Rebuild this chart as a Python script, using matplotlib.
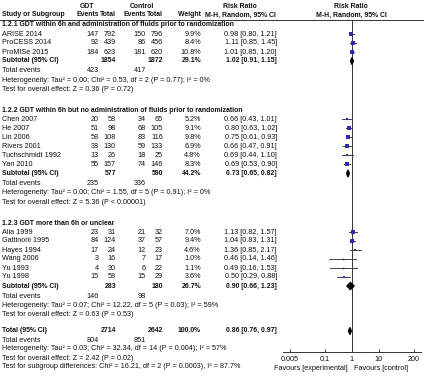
import matplotlib.pyplot as plt
from matplotlib.patches import Polygon
import numpy as np

W, H = 424, 380

# ---- data ----
group_titles = [
    "1.2.1 GDT within 6h and administration of fluids prior to randomization",
    "1.2.2 GDT within 6h but no administration of fluids prior to randomization",
    "1.2.3 GDT more than 6h or unclear",
]

studies_1 = ["ARISE 2014", "ProCESS 2014", "ProMISe 2015"]
gdt_events_1 = [147, 92, 184]
gdt_total_1 = [792, 439, 623]
ctl_events_1 = [150, 86, 181]
ctl_total_1 = [796, 456, 620]
weight_1 = [9.9, 8.4, 10.8]
rr_1 = [0.98, 1.11, 1.01]
lo_1 = [0.80, 0.85, 0.85]
hi_1 = [1.21, 1.45, 1.20]

studies_2 = ["Chen 2007", "He 2007", "Lin 2006", "Rivers 2001", "Tuchschmidt 1992", "Yan 2010"]
gdt_events_2 = [20, 51, 58, 38, 13, 55]
gdt_total_2 = [58, 98, 108, 130, 26, 157]
ctl_events_2 = [34, 68, 83, 59, 18, 74]
ctl_total_2 = [65, 105, 116, 133, 25, 146]
weight_2 = [5.2, 9.1, 9.8, 6.9, 4.8, 8.3]
rr_2 = [0.66, 0.80, 0.75, 0.66, 0.69, 0.69]
lo_2 = [0.43, 0.63, 0.61, 0.47, 0.44, 0.53]
hi_2 = [1.01, 1.02, 0.93, 0.91, 1.10, 0.90]

studies_3 = ["Alia 1999", "Gattinoni 1995", "Hayes 1994", "Wang 2006", "Yu 1993", "Yu 1998"]
gdt_events_3 = [23, 84, 17, 3, 4, 15]
gdt_total_3 = [31, 124, 24, 16, 30, 58]
ctl_events_3 = [21, 37, 12, 7, 6, 15]
ctl_total_3 = [32, 57, 23, 17, 22, 29]
weight_3 = [7.0, 9.4, 4.6, 1.0, 1.1, 3.6]
rr_3 = [1.13, 1.04, 1.36, 0.46, 0.49, 0.50]
lo_3 = [0.82, 0.83, 0.85, 0.14, 0.16, 0.29]
hi_3 = [1.57, 1.31, 2.17, 1.46, 1.53, 0.88]

sub_gdt_total = [1854, 577, 283]
sub_ctl_total = [1872, 590, 180]
sub_weight = [29.1, 44.2, 26.7]
sub_rr = [1.02, 0.73, 0.90]
sub_lo = [0.91, 0.65, 0.66]
sub_hi = [1.15, 0.82, 1.23]
sub_gdt_events = [423, 235, 146]
sub_ctl_events = [417, 336, 98]
sub_het = [
    "Heterogeneity: Tau\u00b2 = 0.00; Chi\u00b2 = 0.53, df = 2 (P = 0.77); I\u00b2 = 0%",
    "Heterogeneity: Tau\u00b2 = 0.00; Chi\u00b2 = 1.55, df = 5 (P = 0.91); I\u00b2 = 0%",
    "Heterogeneity: Tau\u00b2 = 0.07; Chi\u00b2 = 12.22, df = 5 (P = 0.03); I\u00b2 = 59%",
]
sub_test = [
    "Test for overall effect: Z = 0.36 (P = 0.72)",
    "Test for overall effect: Z = 5.36 (P < 0.00001)",
    "Test for overall effect: Z = 0.63 (P = 0.53)",
]

total_gdt, total_ctl = 2714, 2642
total_rr, total_lo, total_hi = 0.86, 0.76, 0.97
total_gdt_events, total_ctl_events = 804, 851
total_het = "Heterogeneity: Tau\u00b2 = 0.03; Chi\u00b2 = 32.34, df = 14 (P = 0.004); I\u00b2 = 57%"
total_test = "Test for overall effect: Z = 2.42 (P = 0.02)"
subgroup_test = "Test for subgroup differences: Chi\u00b2 = 16.21, df = 2 (P = 0.0003), I\u00b2 = 87.7%"

xticks = [0.005, 0.1, 1, 10, 200]
xtick_labels = ["0.005", "0.1", "1", "10", "200"]

groups = [
    (studies_1, gdt_events_1, gdt_total_1, ctl_events_1, ctl_total_1, weight_1, rr_1, lo_1, hi_1),
    (studies_2, gdt_events_2, gdt_total_2, ctl_events_2, ctl_total_2, weight_2, rr_2, lo_2, hi_2),
    (studies_3, gdt_events_3, gdt_total_3, ctl_events_3, ctl_total_3, weight_3, rr_3, lo_3, hi_3),
]

# ---- style ----
plt.rcParams['font.family'] = ['Liberation Sans', 'DejaVu Sans']
FS = 5.2      # regular text
FSB = 4.95    # bold text
TXT = '#111111'
BLUE = '#2c2cb0'

# column right edges (px)
X_NAME = 2
X_GE, X_GT, X_CE, X_CT, X_W, X_CI = 99, 116, 146, 163, 201, 277

fig = plt.figure(figsize=(W / 100, H / 100), dpi=100)


def t(x, y, s, ha='left', bold=False):
    fig.text(x / W, 1 - y / H, s, ha=ha, va='center',
             fontsize=FSB if bold else FS, color=TXT,
             fontweight='bold' if bold else 'normal')


# forest axes: data y == pixel y
ax_l, ax_r, ax_top, ax_bot = 282.7, 420.7, 19.5, 352
ax = fig.add_axes([ax_l / W, 1 - ax_bot / H, (ax_r - ax_l) / W, (ax_bot - ax_top) / H])
ax.set_xscale('log')
ax.set_xlim(10 ** -2.556, 10 ** 2.556)
ax.set_ylim(ax_bot, ax_top)
for s in ['left', 'right', 'top']:
    ax.spines[s].set_visible(False)
ax.spines['bottom'].set_color('#333333')
ax.spines['bottom'].set_linewidth(0.7)
ax.set_yticks([])
ax.set_xticks(xticks)
ax.set_xticklabels(xtick_labels)
ax.minorticks_off()
ax.tick_params(axis='x', direction='in', length=2.5, width=0.7, color='#333333',
               labelsize=FS, labelcolor=TXT, pad=3)
ax.axvline(1, color='#333333', lw=0.7, zorder=1)
ax.patch.set_alpha(0)

# header
t(87, 6, "GDT", ha='center', bold=True)
t(142, 6, "Control", ha='center', bold=True)
t(240, 6, "Risk Ratio", ha='center', bold=True)
t(351, 6, "Risk Ratio", ha='center', bold=True)
t(X_NAME, 15, "Study or Subgroup", bold=True)
t(X_GE, 15, "Events", ha='right', bold=True)
t(X_GT, 15, "Total", ha='right', bold=True)
t(X_CE, 15, "Events", ha='right', bold=True)
t(X_CT, 15, "Total", ha='right', bold=True)
t(X_W, 15, "Weight", ha='right', bold=True)
t(240, 15, "M-H, Random, 95% CI", ha='center', bold=True)
t(351, 15, "M-H, Random, 95% CI", ha='center', bold=True)
fig.add_artist(plt.Line2D([0, 1], [1 - 19.5 / H] * 2, color='#333333', lw=0.7))


def diamond(y, rr, lo, hi):
    pts = [(lo, y), (rr, y - 3.5), (hi, y), (rr, y + 3.5)]
    ax.add_patch(Polygon(pts, closed=True, color='black', zorder=4))


y = 25
for g, (names, ge, gt, ce, ct, w, rr, lo, hi) in enumerate(groups):
    t(X_NAME, y, group_titles[g], bold=True)
    y += 9
    for i, name in enumerate(names):
        t(X_NAME, y, name)
        t(X_GE, y, str(ge[i]), ha='right')
        t(X_GT, y, str(gt[i]), ha='right')
        t(X_CE, y, str(ce[i]), ha='right')
        t(X_CT, y, str(ct[i]), ha='right')
        t(X_W, y, f"{w[i]:.1f}%", ha='right')
        t(X_CI, y, f"{rr[i]:.2f} [{lo[i]:.2f}, {hi[i]:.2f}]", ha='right')
        ax.plot([lo[i], hi[i]], [y, y], color='#444444', lw=0.7, zorder=2)
        side = max(1.6, 1.3 * np.sqrt(w[i]))
        ax.plot(rr[i], y, marker='s', ms=side * 0.72, color=BLUE, mew=0, zorder=3)
        y += 9
    t(X_NAME, y, "Subtotal (95% CI)", bold=True)
    t(X_GT, y, str(sub_gdt_total[g]), ha='right', bold=True)
    t(X_CT, y, str(sub_ctl_total[g]), ha='right', bold=True)
    t(X_W, y, f"{sub_weight[g]:.1f}%", ha='right', bold=True)
    t(X_CI, y, f"{sub_rr[g]:.2f} [{sub_lo[g]:.2f}, {sub_hi[g]:.2f}]", ha='right', bold=True)
    diamond(y, sub_rr[g], sub_lo[g], sub_hi[g])
    y += 10
    t(X_NAME, y, "Total events")
    t(X_GE, y, str(sub_gdt_events[g]), ha='right')
    t(X_CE, y, str(sub_ctl_events[g]), ha='right')
    y += 9.5
    t(X_NAME, y, sub_het[g])
    y += 9
    t(X_NAME, y, sub_test[g])
    y += 21 if g < len(groups) - 1 else 16.5

t(X_NAME, y, "Total (95% CI)", bold=True)
t(X_GT, y, str(total_gdt), ha='right', bold=True)
t(X_CT, y, str(total_ctl), ha='right', bold=True)
t(X_W, y, "100.0%", ha='right', bold=True)
t(X_CI, y, f"{total_rr:.2f} [{total_lo:.2f}, {total_hi:.2f}]", ha='right', bold=True)
diamond(y, total_rr, total_lo, total_hi)
y += 9
t(X_NAME, y, "Total events")
t(X_GE, y, str(total_gdt_events), ha='right')
t(X_CE, y, str(total_ctl_events), ha='right')
y += 9
t(X_NAME, y, total_het)
y += 9
t(X_NAME, y, total_test)
y += 9
t(X_NAME, y, subgroup_test)

t(348, 369, "Favours [experimental]", ha='right')
t(354, 369, "Favours [control]")

fig.savefig('out.png', dpi=100, facecolor='white')
